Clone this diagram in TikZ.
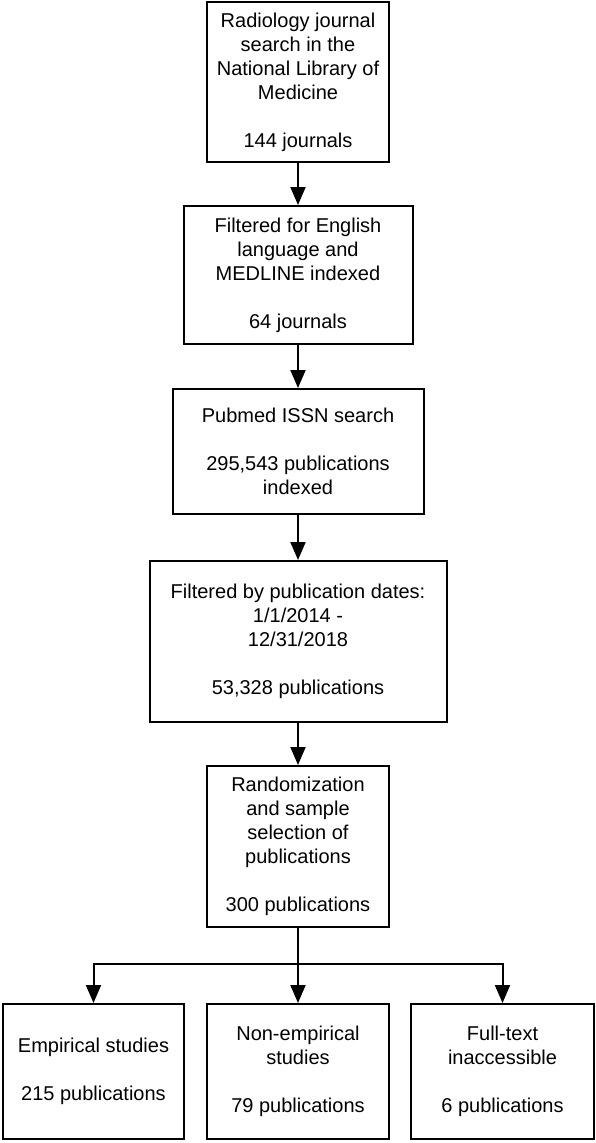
\documentclass[tikz,border=0pt]{standalone}
\usepackage{fontspec}
\setmainfont{Liberation Sans}
\usetikzlibrary{arrows.meta}
\begin{document}
\begin{tikzpicture}[x=1pt,y=1pt,
  box/.style={draw=black,line width=2pt,rectangle,align=center,inner sep=0pt,
    font=\fontsize{20}{24}\selectfont},
  conn/.style={line width=2pt,draw=black},
  arr/.style={conn,-{Triangle[length=18pt,width=15pt]}}]
\useasboundingbox[fill=white] (0,0) rectangle (596,-1143);
\node[box,minimum width=182pt,minimum height=160pt] (n1) at (298,-82)
  {Radiology journal\\search in the\\National Library of\\Medicine\\[24pt]144 journals};
\node[box,minimum width=229pt,minimum height=138pt] (n2) at (298,-275)
  {Filtered for English\\language and\\MEDLINE indexed\\[24pt]64 journals};
\node[box,minimum width=251pt,minimum height=125pt] (n3) at (298,-451.5)
  {Pubmed ISSN search\\[24pt]295,543 publications\\indexed};
\node[box,minimum width=297pt,minimum height=161pt] (n4) at (298,-641.5)
  {Filtered by publication dates:\\1/1/2014 -\\12/31/2018\\[24pt]53,328 publications};
\node[box,minimum width=182pt,minimum height=161pt] (n5) at (298,-846.5)
  {Randomization\\and sample\\selection of\\publications\\[24pt]300 publications};
\node[box,minimum width=181pt,minimum height=135pt] (a) at (93.5,-1071.5)
  {Empirical studies\\[24pt]215 publications};
\node[box,minimum width=182pt,minimum height=135pt] (b) at (298,-1071.5)
  {Non-empirical\\studies\\[24pt]79 publications};
\node[box,minimum width=183pt,minimum height=135pt] (c) at (502.5,-1071.5)
  {Full-text\\inaccessible\\[24pt]6 publications};
\coordinate (j) at (298,-964);
\draw[arr] (n1) -- (n2);
\draw[arr] (n2) -- (n3);
\draw[arr] (n3) -- (n4);
\draw[arr] (n4) -- (n5);
\draw[arr] (n5) -- (b);
\draw[arr] (j) -| (a.north);
\draw[arr] (j) -| (c.north);
\end{tikzpicture}
\end{document}
